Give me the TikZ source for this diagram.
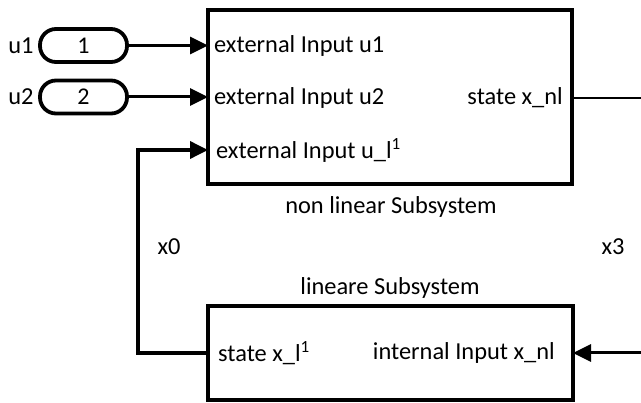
\documentclass[tikz,border=0pt]{standalone}
\usepackage{fontspec}
\setmainfont{Carlito}
\usetikzlibrary{arrows.meta}
\begin{document}
\begin{tikzpicture}[x=1pt,y=-1pt,
  lbl/.style={font=\fontsize{24.4}{28}\selectfont, inner sep=0pt},
  blockbox/.style={draw, line width=4pt, inner sep=0pt},
  inport/.style={draw, line width=3.8pt, rounded corners=16pt, inner sep=0pt,
                 minimum width=87pt, minimum height=33pt,
                 font=\fontsize{24}{28}\selectfont},
  sig/.style={line width=3pt},
  conn/.style={sig, -{Triangle[length=18pt,width=17pt]}}]
  \useasboundingbox (0,0) rectangle (641,403);

  % subsystem blocks
  \node[blockbox, minimum width=364pt, minimum height=174pt] (nl) at (390,97.5) {};
  \node[blockbox, minimum width=365pt, minimum height=94pt] (lin) at (390.5,353) {};

  % block titles
  \node[lbl] (nltitle) at (391,207) {non linear Subsystem};
  \node[lbl] (lintitle) at (390,288) {lineare Subsystem};

  % port coordinates on the blocks
  \coordinate (nlp1) at (208,46);
  \coordinate (nlp2) at (208,98);
  \coordinate (nlp3) at (208,150);
  \coordinate (nlout) at (572,98);
  \coordinate (linin) at (573,353);
  \coordinate (linout) at (208,353);

  % port labels
  \node[lbl, anchor=west] (e1) at (214,46) {external Input u1};
  \node[lbl, anchor=west] (e2) at (214,98) {external Input u2};
  \node[lbl, anchor=west] (e3) at (216,150) {external Input u\_l\textsuperscript{1}};
  \node[lbl, anchor=east] (sx) at (563,98) {state x\_nl};
  \node[lbl, anchor=west] (sl) at (218,353) {state x\_l\textsuperscript{1}};
  \node[lbl, anchor=east] (ix) at (555,353) {internal Input x\_nl};

  % inports
  \node[inport] (in1) at (83.5,45.5) {1};
  \node[inport] (in2) at (83.5,97) {2};
  \node[lbl] (u1) at (21,46) {u1};
  \node[lbl] (u2) at (21,97) {u2};

  % signal names
  \node[lbl] (x0) at (169,247) {x0};
  \node[lbl] (x3) at (613,247) {x3};

  % off-page signal ends and bend point
  \coordinate (xout) at (641,98);
  \coordinate (xin) at (641,353);
  \coordinate (bend) at (138,353);

  % connectors
  \draw[conn] (in1.east) -- (in1.east -| nlp1);
  \draw[conn] (in2.east) -- (in2.east -| nlp2);
  \draw[conn, line width=3.6pt] (linout) -- (bend) |- (nlp3);
  \draw[line width=2.4pt] (nlout) -- (xout);
  \draw[conn] (xin) -- (linin);
\end{tikzpicture}
\end{document}
